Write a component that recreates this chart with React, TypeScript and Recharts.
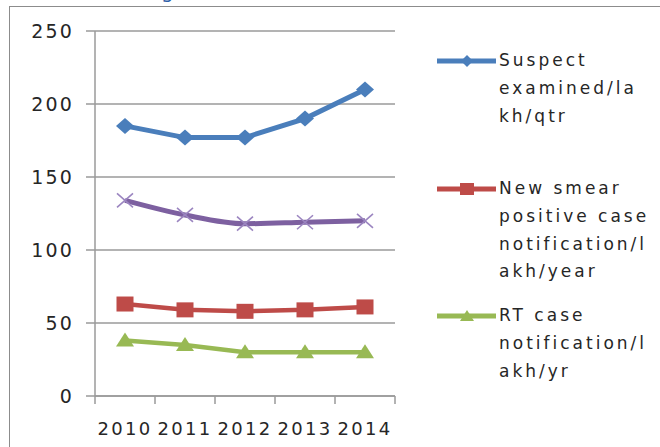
import React from "react";
import { ComposedChart, Line, XAxis, YAxis, CartesianGrid, Legend } from "recharts";

const years = ["2010", "2011", "2012", "2013", "2014"];
const suspectExamined = [185, 177, 177, 190, 210];
const unlabeledSeries = [134, 124, 118, 119, 120];
const newSmearPositive = [63, 59, 58, 59, 61];
const rtCase = [38, 35, 30, 30, 30];
const yTicks = [0, 50, 100, 150, 200, 250];

const legendOrder = ["suspect", "smear", "rt"];
const legendLines: Record<string, string[]> = {
  suspect: ["Suspect", "examined/la", "kh/qtr"],
  smear: ["New smear", "positive case", "notification/l", "akh/year"],
  rt: ["RT case", "notification/l", "akh/yr"],
};

const data = years.map((year, i) => ({
  year,
  suspect: suspectExamined[i],
  other: unlabeledSeries[i],
  smear: newSmearPositive[i],
  rt: rtCase[i],
}));

const BLUE = "#4A7EBB";
const RED = "#BE4B48";
const GREEN = "#98B954";
const PURPLE = "#7D60A0";
const GRID = "#9a9a9a";
const TEXT = "#262626";
const FONT = "'DejaVu Sans', Verdana, sans-serif";

const colorOf: Record<string, string> = { suspect: BLUE, smear: RED, rt: GREEN };
const legendTops = [0, 128, 255];

const Diamond = (props: any) => {
  const { cx, cy } = props;
  if (cx == null || cy == null) return null;
  return <polygon points={`${cx},${cy - 8} ${cx + 9},${cy} ${cx},${cy + 8} ${cx - 9},${cy}`} fill={BLUE} />;
};
const Square = (props: any) => {
  const { cx, cy } = props;
  if (cx == null || cy == null) return null;
  return <rect x={cx - 8.5} y={cy - 7.5} width={17} height={15} fill={RED} />;
};
const Triangle = (props: any) => {
  const { cx, cy } = props;
  if (cx == null || cy == null) return null;
  return <polygon points={`${cx},${cy - 8} ${cx + 9},${cy + 6} ${cx - 9},${cy + 6}`} fill={GREEN} />;
};
const Cross = (props: any) => {
  const { cx, cy } = props;
  if (cx == null || cy == null) return null;
  return (
    <g stroke="#9b85c0" strokeWidth={1.6}>
      <line x1={cx - 8} y1={cy - 7} x2={cx + 8} y2={cy + 7} />
      <line x1={cx - 8} y1={cy + 7} x2={cx + 8} y2={cy - 7} />
    </g>
  );
};

const XTick = (props: any) => {
  const { x, y, payload, index } = props;
  const half = payload && payload.offset ? payload.offset : 30;
  return (
    <g>
      <line x1={x - half} y1={y} x2={x - half} y2={y + 8} stroke={GRID} strokeWidth={1.5} />
      {index === years.length - 1 && (
        <line x1={x + half} y1={y} x2={x + half} y2={y + 8} stroke={GRID} strokeWidth={1.5} />
      )}
      <text x={x} y={y + 39} textAnchor="middle" fill={TEXT} fontSize={18} fontFamily={FONT} letterSpacing={2.3}>
        {payload.value}
      </text>
    </g>
  );
};

const LegendIcon = ({ k }: { k: string }) => {
  const c = colorOf[k];
  return (
    <svg width={62} height={14} style={{ display: "block" }}>
      <line x1={1} y1={7} x2={60} y2={7} stroke={c} strokeWidth={5} />
      {k === "suspect" && <polygon points="31,1 37,7 31,13 25,7" fill={c} />}
      {k === "smear" && <rect x={24} y={1} width={14} height={12} fill={c} />}
      {k === "rt" && <polygon points="31,1 38,12 24,12" fill={c} />}
    </svg>
  );
};

const CustomLegend = (props: any) => {
  const items = (props.payload || []).filter((p: any) => p.type !== "none");
  const sorted = legendOrder
    .map((k) => items.find((it: any) => it.dataKey === k))
    .filter(Boolean);
  return (
    <div style={{ position: "relative", width: 220, height: 360 }}>
      {sorted.map((it: any, i: number) => {
        const k = it.dataKey as string;
        return (
          <div key={k} style={{ position: "absolute", left: 0, top: legendTops[i], display: "flex" }}>
            <div style={{ paddingTop: 7 }}>
              <LegendIcon k={k} />
            </div>
            <div
              style={{
                marginLeft: 1,
                fontFamily: FONT,
                fontSize: 17,
                letterSpacing: 3,
                lineHeight: "27.8px",
                color: TEXT,
              }}
            >
              {legendLines[k].map((ln) => (
                <div key={ln}>{ln}</div>
              ))}
            </div>
          </div>
        );
      })}
    </div>
  );
};

export default function App() {
  return (
    <div
      style={{
        position: "absolute",
        left: 0,
        top: 0,
        width: 660,
        height: 447,
        overflow: "hidden",
        background: "#fff",
        fontFamily: FONT,
      }}
    >
      <div
        style={{
          position: "absolute",
          left: 161,
          top: -19,
          fontSize: 20,
          lineHeight: "20px",
          color: "#2e5fa8",
          fontFamily: FONT,
        }}
      >
        g
      </div>
      <div
        style={{
          position: "absolute",
          left: 9,
          top: 6,
          width: 700,
          height: 500,
          borderLeft: "1.5px solid #8c8c8c",
          borderTop: "1.5px solid #8c8c8c",
        }}
      />
      <div style={{ position: "absolute", left: 0, top: 0 }}>
        <ComposedChart width={660} height={447} data={data} margin={{ top: 31, right: 265, bottom: 11, left: 35 }}>
          <CartesianGrid vertical={false} stroke={GRID} strokeWidth={1.5} />
          <XAxis
            dataKey="year"
            scale="band"
            height={40}
            tickLine={false}
            tickSize={0}
            tickMargin={0}
            axisLine={{ stroke: GRID, strokeWidth: 1.5 }}
            tick={<XTick />}
            interval={0}
          />
          <YAxis
            width={60}
            domain={[0, 250]}
            ticks={yTicks}
            interval={0}
            tickSize={9}
            tickMargin={12}
            axisLine={{ stroke: GRID, strokeWidth: 1.5 }}
            tickLine={{ stroke: GRID, strokeWidth: 1.5 }}
            tick={{ fill: TEXT, fontSize: 19, fontFamily: FONT, letterSpacing: 2.2 }}
          />
          <Line
            dataKey="suspect"
            name="Suspect examined/lakh/qtr"
            stroke={BLUE}
            strokeWidth={5}
            dot={<Diamond />}
            activeDot={false}
            isAnimationActive={false}
          />
          <Line
            dataKey="other"
            type="monotone"
            stroke={PURPLE}
            strokeWidth={5}
            dot={<Cross />}
            activeDot={false}
            legendType="none"
            isAnimationActive={false}
          />
          <Line
            dataKey="smear"
            name="New smear positive case notification/lakh/year"
            stroke={RED}
            strokeWidth={4.5}
            dot={<Square />}
            activeDot={false}
            isAnimationActive={false}
          />
          <Line
            dataKey="rt"
            name="RT case notification/lakh/yr"
            stroke={GREEN}
            strokeWidth={4.5}
            dot={<Triangle />}
            activeDot={false}
            isAnimationActive={false}
          />
          <Legend
            layout="vertical"
            align="center"
            verticalAlign="middle"
            content={<CustomLegend />}
            wrapperStyle={{ left: 436, top: 47, width: 220, height: 360 }}
          />
        </ComposedChart>
      </div>
    </div>
  );
}
